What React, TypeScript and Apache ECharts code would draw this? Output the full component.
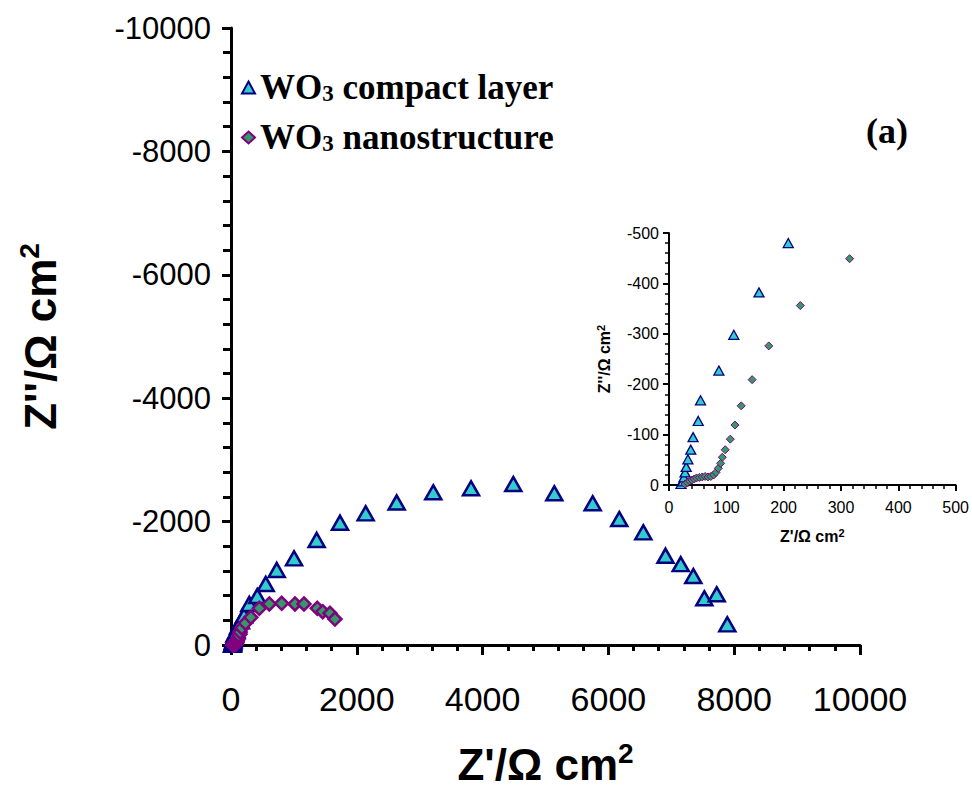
import React, { useEffect, useRef } from "react";
import * as echarts from "echarts";

// WO3 compact layer: Z' (ohm cm2) and Z'' (ohm cm2)
const compactZre = [21, 24, 26, 28, 30, 33, 38, 42, 51, 55, 87, 113, 157, 208, 291, 418, 552, 727, 1002, 1362, 1733, 2141, 2634, 3216, 3816, 4488, 5140, 5750, 6173, 6555, 6908, 7150, 7350, 7525, 7722, 7890];
const compactZim = [-2, -7, -15, -25, -36, -51, -70, -95, -127, -168, -227, -298, -382, -480, -665, -794, -989, -1216, -1405, -1702, -1982, -2134, -2310, -2475, -2540, -2609, -2459, -2297, -2042, -1826, -1447, -1310, -1118, -757, -822, -335];

// WO3 nanostructure
const nanoZre = [28, 32, 36, 40, 44, 48, 53, 58, 63, 68, 73, 78, 82, 86, 90, 93, 98, 107, 115, 126, 145, 174, 229, 315, 450, 609, 806, 1017, 1160, 1372, 1458, 1574, 1653];
const nanoZim = [-2, -5, -8, -10, -12, -14, -15, -16, -17, -16, -17, -20, -25, -33, -43, -55, -70, -91, -119, -157, -209, -276, -356, -449, -595, -665, -676, -665, -665, -595, -540, -513, -421];

const seriesNames = ["WO3 compact layer", "WO3 nanostructure"];
const mainXTicks = [0, 10000, 2000];
const mainYTicks = [-10000, 0, 2000];
const insetXTicks = [0, 500, 100];
const insetYTicks = [-500, 0, 100];

const SANS = "'Liberation Sans', Arial, sans-serif";
const SERIF = "'Liberation Serif', 'Times New Roman', serif";

const triFill = "#33CCCC";
const triStroke = "#000080";
const diaFill = "#339966";
const diaStroke = "#800080";

function pairs(xs: number[], ys: number[]) {
  return xs.map((x, i) => [x, ys[i]]);
}

const plain = (v: number) => String(v);

export default function App() {
  const ref = useRef<HTMLDivElement>(null);
  useEffect(() => {
    const chart = echarts.init(ref.current!, null, { renderer: "svg" });
    const axisLine = { show: true, onZero: false, lineStyle: { color: "#000", width: 3 } };
    const insetAxisLine = { show: true, onZero: false, lineStyle: { color: "#000", width: 2 } };
    const bigTitle = {
      rich: {
        t: { fontFamily: SANS, fontWeight: "bold", fontSize: 44, color: "#000", lineHeight: 50 },
        p: { fontFamily: SANS, fontWeight: "bold", fontSize: 28, color: "#000", lineHeight: 34, verticalAlign: "top" },
      },
    };
    const smallTitle = {
      rich: {
        t: { fontFamily: SANS, fontWeight: "bold", fontSize: 16, color: "#000", lineHeight: 18 },
        p: { fontFamily: SANS, fontWeight: "bold", fontSize: 11, color: "#000", lineHeight: 11, verticalAlign: "top" },
      },
    };
    const option: any = {
      animation: false,
      backgroundColor: "#fff",
      grid: [
        { left: 231, top: 28, width: 629, height: 617 },
        { left: 669, top: 233, width: 287, height: 252 },
      ],
      legend: {
        orient: "vertical",
        left: 236,
        top: 65,
        itemWidth: 13,
        itemHeight: 12,
        itemGap: 15,
        data: seriesNames,
        formatter: (name: string) =>
          name === seriesNames[0] ? "{b|WO}{s|3}{b| compact layer}" : "{b|WO}{s|3}{b| nanostructure}",
        textStyle: {
          rich: {
            b: { fontFamily: SERIF, fontWeight: "bold", fontSize: 35, color: "#000", lineHeight: 34 },
            s: { fontFamily: SERIF, fontWeight: "bold", fontSize: 23, color: "#000", lineHeight: 16, verticalAlign: "bottom" },
          },
        },
      },
      xAxis: [
        {
          gridIndex: 0,
          type: "value",
          min: mainXTicks[0],
          max: mainXTicks[1],
          interval: mainXTicks[2],
          axisLine,
          axisTick: { show: true, length: 10, lineStyle: { color: "#000", width: 3 } },
          minorTick: { show: true, splitNumber: 5, length: 6, lineStyle: { color: "#000", width: 3 } },
          splitLine: { show: false },
          axisLabel: { fontFamily: SANS, fontSize: 34, color: "#000", margin: 37, formatter: plain },
          name: "{t|Z'/Ω cm}{p|2}",
          nameLocation: "middle",
          nameGap: 94,
          nameTextStyle: bigTitle,
        },
        {
          gridIndex: 1,
          type: "value",
          min: insetXTicks[0],
          max: insetXTicks[1],
          interval: insetXTicks[2],
          axisLine: insetAxisLine,
          axisTick: { show: true, length: 6, lineStyle: { color: "#000", width: 2 } },
          minorTick: { show: true, splitNumber: 5, length: 4, lineStyle: { color: "#000", width: 1.5 } },
          splitLine: { show: false },
          axisLabel: { fontFamily: SANS, fontSize: 16, color: "#000", margin: 14, formatter: plain },
          name: "{t|Z'/Ω cm}{p|2}",
          nameLocation: "middle",
          nameGap: 42,
          nameTextStyle: smallTitle,
        },
      ],
      yAxis: [
        {
          gridIndex: 0,
          type: "value",
          inverse: true,
          min: mainYTicks[0],
          max: mainYTicks[1],
          interval: mainYTicks[2],
          axisLine,
          axisTick: { show: true, length: 9, lineStyle: { color: "#000", width: 3 } },
          minorTick: { show: true, splitNumber: 5, length: 8, lineStyle: { color: "#000", width: 3 } },
          splitLine: { show: false },
          axisLabel: { fontFamily: SANS, fontSize: 31, color: "#000", margin: 20, formatter: plain },
          name: "{t|Z''/Ω cm}{p|2}",
          nameLocation: "middle",
          nameRotate: 90,
          nameGap: 166,
          nameTextStyle: bigTitle,
        },
        {
          gridIndex: 1,
          type: "value",
          inverse: true,
          min: insetYTicks[0],
          max: insetYTicks[1],
          interval: insetYTicks[2],
          axisLine: insetAxisLine,
          axisTick: { show: true, length: 6, lineStyle: { color: "#000", width: 2 } },
          minorTick: { show: true, splitNumber: 5, length: 4, lineStyle: { color: "#000", width: 1.5 } },
          splitLine: { show: false },
          axisLabel: { fontFamily: SANS, fontSize: 16, color: "#000", margin: 10, formatter: plain },
          name: "{t|Z''/Ω cm}{p|2}",
          nameLocation: "middle",
          nameRotate: 90,
          nameGap: 56,
          nameTextStyle: smallTitle,
        },
      ],
      series: [
        {
          name: seriesNames[0],
          type: "scatter",
          xAxisIndex: 0,
          yAxisIndex: 0,
          symbol: "triangle",
          symbolSize: [16, 14],
          itemStyle: { color: triFill, borderColor: triStroke, borderWidth: 2.5, opacity: 1 },
          data: pairs(compactZre, compactZim),
          z: 3,
        },
        {
          name: seriesNames[1],
          type: "scatter",
          xAxisIndex: 0,
          yAxisIndex: 0,
          symbol: "diamond",
          symbolSize: [13, 13],
          itemStyle: { color: diaFill, borderColor: diaStroke, borderWidth: 2.5, opacity: 1 },
          data: pairs(nanoZre, nanoZim),
          z: 4,
        },
        {
          name: seriesNames[0],
          type: "scatter",
          xAxisIndex: 1,
          yAxisIndex: 1,
          clip: true,
          symbol: "triangle",
          symbolSize: [10, 9],
          itemStyle: { color: triFill, borderColor: triStroke, borderWidth: 1.3, opacity: 1 },
          data: pairs(compactZre, compactZim),
          z: 3,
        },
        {
          name: seriesNames[1],
          type: "scatter",
          xAxisIndex: 1,
          yAxisIndex: 1,
          clip: true,
          symbol: "diamond",
          symbolSize: [8, 8],
          itemStyle: { color: diaFill, borderColor: diaStroke, borderWidth: 1, opacity: 1 },
          data: pairs(nanoZre, nanoZim),
          z: 4,
        },
      ],
      graphic: [
        {
          type: "text",
          left: 866,
          top: 113,
          style: { text: "(a)", fontFamily: SERIF, fontWeight: "bold", fontSize: 36, fill: "#000" },
        },
      ],
    };
    chart.setOption(option);
    return () => chart.dispose();
  }, []);
  return <div ref={ref} style={{ position: "fixed", left: 0, top: 0, width: 972, height: 798, background: "#fff" }} />;
}
